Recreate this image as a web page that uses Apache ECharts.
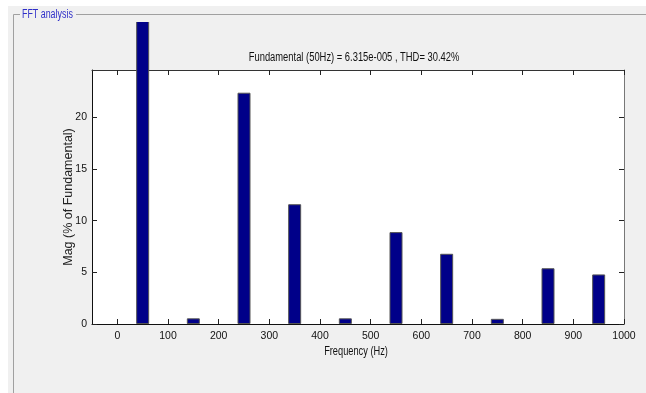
<!DOCTYPE html>
<html>
<head>
<meta charset="utf-8">
<script src="https://cdn.jsdelivr.net/npm/echarts@6/dist/echarts.min.js"></script>
<style>
  html, body { margin: 0; padding: 0; background: #fff; }
  #chart { width: 646px; height: 393px; }
</style>
</head>
<body>
<div id="chart"></div>
<script>
// Harmonic spectrum: odd harmonics of the 50 Hz fundamental
const frequencies = [50, 150, 250, 350, 450, 550, 650, 750, 850, 950];
const magnitudes  = [100, 0.55, 22.4, 11.6, 0.55, 8.9, 6.8, 0.5, 5.4, 4.8];
const xTicks = [0, 100, 200, 300, 400, 500, 600, 700, 800, 900, 1000];
const yTicks = [0, 5, 10, 15, 20];

const titleText = 'Fundamental (50Hz) = 6.315e-005 , THD= 30.42%';
const xTitle = 'Frequency (Hz)';
const yTitle = 'Mag (% of Fundamental)';
const panelTitle = 'FFT analysis';
const sans = '"Liberation Sans", Arial, sans-serif';

const chart = echarts.init(document.getElementById('chart'), null, { renderer: 'canvas' });

const baseX = {
  type: 'value', min: -50, max: 1000,
  splitLine: { show: false },
  axisTick: { inside: true, length: 5, customValues: xTicks, lineStyle: { color: '#222' } },
  axisLabel: { customValues: xTicks, color: '#111', fontFamily: sans, fontSize: 10.5, margin: 7,
               formatter: v => String(v) }
};
const baseY = {
  type: 'value', min: 0, max: 24.6,
  splitLine: { show: false },
  axisTick: { inside: true, length: 5, customValues: yTicks, lineStyle: { color: '#222' } },
  axisLabel: { customValues: yTicks, color: '#111', fontFamily: sans, fontSize: 10.5, margin: 5,
               formatter: v => String(v) }
};

chart.setOption({
  backgroundColor: '#f0f0f0',
  animation: false,
  grid: {
    left: 92, top: 70, right: 22, bottom: 69,
    show: true, backgroundColor: '#ffffff', borderWidth: 0
  },
  xAxis: [
    Object.assign({}, baseX, {
      position: 'bottom',
      axisLine: { onZero: false, lineStyle: { color: '#111', width: 1 } }
    }),
    Object.assign({}, baseX, {
      position: 'top',
      axisLine: { onZero: false, lineStyle: { color: '#333', width: 1 } },
      axisLabel: { show: false }
    })
  ],
  yAxis: [
    Object.assign({}, baseY, {
      position: 'left',
      axisLine: { show: true, onZero: false, lineStyle: { color: '#111', width: 1 } }
    }),
    Object.assign({}, baseY, {
      position: 'right',
      axisLine: { show: true, onZero: false, lineStyle: { color: '#777', width: 1 } },
      axisLabel: { show: false }
    })
  ],
  series: [{
    type: 'bar',
    xAxisIndex: 0, yAxisIndex: 0,
    clip: false,
    barWidth: 13,
    data: frequencies.map((f, i) => [f, magnitudes[i]]),
    itemStyle: { color: '#000089', borderColor: '#555', borderWidth: 1 }
  }],
  graphic: [
    // white margin around the panel
    { type: 'rect', z: 100, shape: { x: 0, y: 0, width: 646, height: 6 }, style: { fill: '#ffffff' } },
    { type: 'rect', z: 100, shape: { x: 0, y: 0, width: 8, height: 393 }, style: { fill: '#ffffff' } },
    // panel strip above the axes (the fundamental bar ends at the panel edge)
    { type: 'rect', z: 100, shape: { x: 8, y: 6, width: 638, height: 16 }, style: { fill: '#f0f0f0' } },
    { type: 'line', z: 101, shape: { x1: 13.5, y1: 14.5, x2: 20, y2: 14.5 }, style: { stroke: '#a0a0a0', lineWidth: 1 } },
    { type: 'line', z: 101, shape: { x1: 76, y1: 14.5, x2: 646, y2: 14.5 }, style: { stroke: '#a0a0a0', lineWidth: 1 } },
    { type: 'line', z: 101, shape: { x1: 13.5, y1: 14.5, x2: 13.5, y2: 393 }, style: { stroke: '#a0a0a0', lineWidth: 1 } },
    { type: 'text', z: 102, x: 22, y: 14.5, scaleX: 0.74,
      style: { text: panelTitle, fill: '#2f2fc8', font: '12px ' + sans, textVerticalAlign: 'middle' } },
    { type: 'text', z: 102, x: 354, y: 58, scaleX: 0.75,
      style: { text: titleText, fill: '#111', font: '12.5px ' + sans, textAlign: 'center', textVerticalAlign: 'middle' } },
    { type: 'text', z: 102, x: 356, y: 352, scaleX: 0.74,
      style: { text: xTitle, fill: '#111', font: '12.5px ' + sans, textAlign: 'center', textVerticalAlign: 'middle' } },
    { type: 'text', z: 102, x: 69, y: 197, rotation: Math.PI / 2,
      style: { text: yTitle, fill: '#222', font: '12.5px ' + sans, textAlign: 'center', textVerticalAlign: 'middle' } }
  ]
});
</script>
</body>
</html>
